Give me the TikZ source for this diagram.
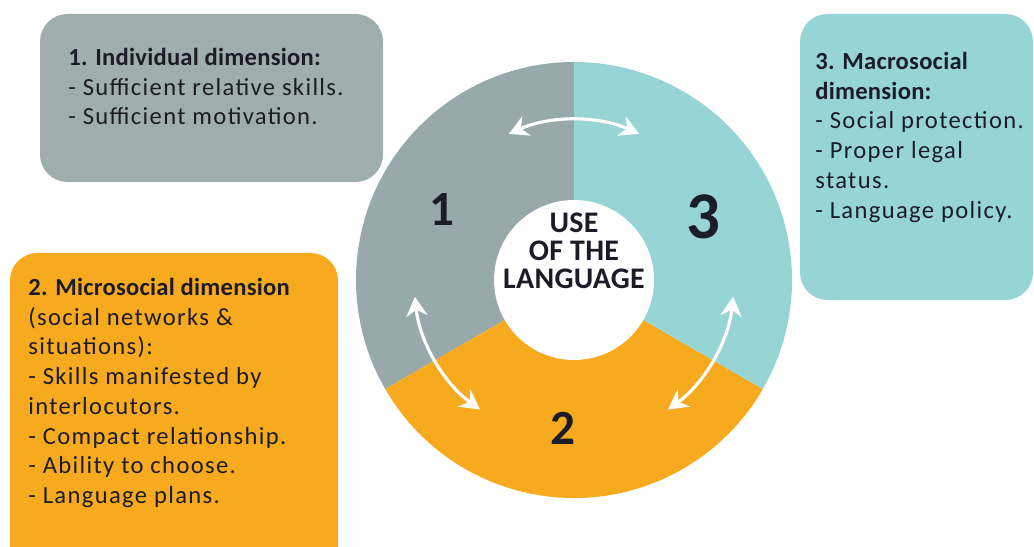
\documentclass[tikz,border=0pt]{standalone}
\usepackage{fontspec}
\setmainfont{Carlito}[LetterSpace=5.5, BoldFeatures={LetterSpace=1}]
\usetikzlibrary{positioning}
\usetikzlibrary{arrows.meta}
\definecolor{ringgray}{RGB}{151,169,170}
\definecolor{boxgray}{RGB}{158,174,173}
\definecolor{ringteal}{RGB}{150,213,212}
\definecolor{ringorange}{RGB}{248,170,30}
\definecolor{ink}{RGB}{28,28,40}

\begin{document}
\begin{tikzpicture}[x=0.02cm, y=0.02cm,
    panel/.style={rounded corners=0.55cm},
    info/.style={anchor=north west, inner sep=0pt, align=left, text=ink, font=\fontsize{14}{16.9}\selectfont},
    num/.style={text=ink, font=\bfseries\fontsize{28}{28}\selectfont},
    linkarrow/.style={white, line width=1.8pt, {Stealth[length=11pt,width=12pt]}-{Stealth[length=11pt,width=12pt]}}
    ]
\useasboundingbox (0,0) rectangle (1034,547);
\clip (0,0) rectangle (1034,547);

% panels
\fill[boxgray, panel] (40,533) rectangle (383,365);
\fill[ringteal, panel] (800,533) rectangle (1033,247);
\fill[ringorange, panel] (10,294) rectangle (338,-30);

\node[info] (dim1) at (68,499) {\textbf{1. Individual dimension:}\\- Sufficient relative skills.\\- Sufficient motivation.};
\node[info] (dim3) at (815,495) {\textbf{3. Macrosocial}\\\textbf{dimension:}\\- Social protection.\\- Proper legal\\status.\\- Language policy.};
\node[info] (dim2) at (28,269) {\textbf{2. Microsocial dimension}\\(social networks \&\\situations):\\- Skills manifested by\\interlocutors.\\- Compact relationship.\\- Ability to choose.\\- Language plans.};

% ring
\coordinate (c) at (574,267);
\fill[ringgray] (c) -- ++(90:218) arc[start angle=90, end angle=210, radius=218] -- cycle;
\fill[ringorange] (c) -- ++(210:218) arc[start angle=210, end angle=330, radius=218] -- cycle;
\fill[ringteal] (c) -- ++(-30:218) arc[start angle=-30, end angle=90, radius=218] -- cycle;
\node[circle, fill=white, inner sep=0pt, minimum size=3.2cm] (hub) at (c) {};
\node[text=ink, align=center, font=\bfseries\fontsize{17}{15.9}\selectfont] (hubtext) at ([yshift=0.58cm]hub.center) {USE\\OF THE\\LANGUAGE};

\node[num] (n1) at (442,337) {1};
\node[num, font=\bfseries\fontsize{38}{38}\selectfont] (n3) at (703,330) {3};
\node[num] (n2) at (563,119) {2};

% arrows between dimensions
\draw[linkarrow] ([shift={(114:160)}]c) arc[start angle=114, end angle=66, radius=160];
\draw[linkarrow] ([shift={(186:160)}]c) arc[start angle=186, end angle=234, radius=160];
\draw[linkarrow] ([shift={(-6:160)}]c) arc[start angle=-6, end angle=-54, radius=160];
\end{tikzpicture}
\end{document}
